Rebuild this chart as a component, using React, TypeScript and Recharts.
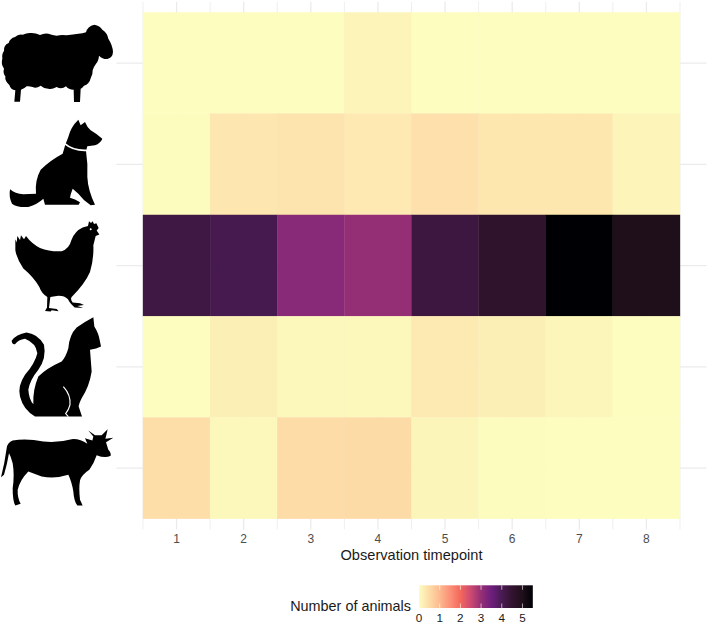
import React from 'react';
import { ScatterChart, Scatter, XAxis, YAxis, CartesianGrid, Legend, Label } from 'recharts';

const TIMEPOINTS = [1, 2, 3, 4, 5, 6, 7, 8];
const HALF_POINTS = [0.5, 1.5, 2.5, 3.5, 4.5, 5.5, 6.5, 7.5, 8.5];
const ROWS = [1, 2, 3, 4, 5];
const LEGEND_TICKS = [0, 1, 2, 3, 4, 5];

// animal rows, top to bottom
const SHEEP = [0, 0, 0, 0.13, 0, 0, 0, 0];
const DOG = [0.02, 0.34, 0.38, 0.29, 0.42, 0.33, 0.33, 0.13];
const CHICKEN = [4.2, 4.05, 3.15, 3, 4.25, 4.6, 5.5, 5];
const CAT = [0, 0.2, 0.09, 0.09, 0.28, 0.2, 0.1, 0];
const COW = [0.46, 0.08, 0.48, 0.5, 0.12, 0.02, 0, 0];

const COLOR_VALUES = [0, 0.5, 1, 1.5, 2, 2.5, 3, 3.5, 4, 4.5, 5, 5.5];
const COLOR_STOPS = ['#FCFDBF', '#FDDBA7', '#FDB98F', '#FB9078', '#F4685C', '#CC4A72', '#952F75', '#6E1E7E', '#491B52', '#33132F', '#1E0F1B', '#000004'];

const CHART_W = 709;
const CHART_H = 625;
const PLOT_LEFT = 116.5;
const PLOT_RIGHT = 706.5;
const PLOT_TOP = 1.8;
const PLOT_BOTTOM = 529.4;
const X_DOMAIN = [0.105, 8.895];
const Y_DOMAIN = [0.395, 5.605];
const CELL_W = (PLOT_RIGHT - PLOT_LEFT) / (X_DOMAIN[1] - X_DOMAIN[0]);
const CELL_H = (PLOT_BOTTOM - PLOT_TOP) / (Y_DOMAIN[1] - Y_DOMAIN[0]);

function hexToRgb(hex: string) {
  return [1, 3, 5].map((i) => parseInt(hex.slice(i, i + 2), 16));
}

function colorFor(v: number) {
  let i = 0;
  while (i < COLOR_VALUES.length - 2 && v > COLOR_VALUES[i + 1]) i++;
  const t = (v - COLOR_VALUES[i]) / (COLOR_VALUES[i + 1] - COLOR_VALUES[i]);
  const a = hexToRgb(COLOR_STOPS[i]);
  const b = hexToRgb(COLOR_STOPS[i + 1]);
  const c = a.map((x, k) => Math.round(x + (b[k] - x) * t));
  return `rgb(${c[0]},${c[1]},${c[2]})`;
}

const rowData = (counts: number[], row: number) => counts.map((count, i) => ({ x: TIMEPOINTS[i], y: row, count }));

// traced silhouettes, drawn in a 3x box and scaled down in the tick
const ICONS: Record<number, { dy: number; body: string; white?: React.ReactNode }> = {
  5: {
    dy: -52.7,
    body: 'M258 66 Q262 48 283 43 Q300 46 307 58 Q322 68 325 85 Q338 105 339 125 Q338 142 322 146 Q308 147 297 136 Q296 152 288 160 Q282 168 278 180 Q279 192 272 204 Q268 222 252 226 Q246 234 242 235 L240 275 L222 275 L221 238 Q205 238 198 228 Q185 238 170 230 Q155 238 145 235 Q130 234 122 226 Q108 236 98 230 Q85 226 80 228 Q72 236 63 238 L60 274 L43 274 L46 240 Q32 238 28 224 Q14 212 16 198 Q8 188 12 175 Q2 160 7 145 Q5 130 12 122 Q10 105 26 98 Q30 84 45 80 Q55 70 68 73 Q82 66 95 68 Q108 68 120 74 Q132 68 145 70 Q158 74 170 76 Q185 72 200 75 Q220 72 235 70 Q248 70 258 66 Z',
  },
  4: {
    dy: -54,
    body: 'M235 28 L242 45 L255 35 Q262 52 272 60 Q292 72 307 85 Q302 98 285 105 L262 108 L258 122 Q264 160 262 200 Q264 240 285 283 L272 285 Q250 270 235 250 L218 235 Q212 250 210 262 Q225 265 240 276 L236 283 Q190 284 135 283 L130 265 Q112 282 85 290 Q50 292 36 280 Q26 262 30 237 Q45 250 70 252 L108 250 Q104 210 122 178 Q150 150 188 130 Q196 100 205 80 Q212 50 235 28 Z',
    white: <path d="M194 100 Q220 122 260 120" fill="none" stroke="#fff" strokeWidth={5} />,
  },
  3: {
    dy: -53.7,
    body: 'M46 82 L50 92 L52 72 L60 84 L63 70 L72 82 L78 72 Q95 95 120 108 Q150 120 185 118 Q208 110 214 85 Q224 58 248 47 L264 42 L267 28 L273 33 L278 28 L282 36 L289 34 L296 48 L290 56 L298 68 L287 72 Q284 85 280 100 Q282 140 270 180 Q255 215 215 255 Q210 262 218 272 L240 274 L252 279 L232 282 L250 288 L224 287 Q208 272 204 262 Q192 250 170 252 L151 255 L147 288 L170 291 L176 298 L155 295 L152 299 L135 297 L141 287 L142 255 Q125 245 118 225 Q100 195 70 170 Q50 140 46 115 Z',
    white: <circle cx={272} cy={52} r={3} fill="#fff" />,
  },
  2: {
    dy: -52,
    body: 'M280 7 L283 35 Q296 55 300 80 L303 95 Q290 102 270 105 Q272 130 275 170 Q268 215 245 250 Q236 268 236 275 L246 305 L190 305 L105 305 Q70 285 60 245 Q52 215 75 180 Q105 145 112 115 Q108 85 75 72 Q55 75 45 88 Q36 90 35 78 Q48 58 80 53 Q115 58 132 90 Q140 130 115 165 Q90 195 85 225 Q87 255 100 268 Q98 225 115 185 Q140 160 185 140 Q198 125 205 100 Q208 60 230 38 Q255 20 280 7 Z',
    white: <path d="M190 215 Q213 240 210 270 Q206 285 197 296 L205 305" fill="none" stroke="#fff" strokeWidth={3.5} />,
  },
  1: {
    dy: -48.3,
    body: 'M20 85 Q22 68 38 62 Q80 55 130 65 Q170 70 215 58 Q240 56 262 72 L255 55 L277 62 L280 50 L265 32 L285 46 L305 46 L323 28 L318 50 L316 57 L340 54 L318 67 L325 90 Q334 100 332 108 Q315 116 290 106 Q282 130 268 150 Q245 165 240 182 Q236 205 240 240 L248 257 L232 257 Q222 245 220 215 Q215 185 205 165 Q165 178 125 170 L85 155 Q60 180 53 210 Q52 235 62 252 L46 257 Q38 245 38 205 Q44 165 38 130 Q33 110 27 100 Q22 130 12 165 L3 172 Q14 130 20 85 Z',
  },
};

function AnimalTick(props: any) {
  const icon = ICONS[props.payload.value];
  if (!icon) return null;
  return (
    <g transform={`translate(0,${props.y + icon.dy}) scale(${1 / 3})`}>
      <path d={icon.body} fill="#000" />
      {icon.white}
    </g>
  );
}

function Tile(props: any) {
  const { cx, cy, payload } = props;
  const fill = colorFor(payload.count);
  // thin same-colour stroke closes the hairline seams between tiles
  return <rect x={cx - CELL_W / 2} y={cy - CELL_H / 2} width={CELL_W} height={CELL_H} fill={fill} stroke={fill} strokeWidth={0.35} />;
}

function ColorBar() {
  const x0 = 139;
  const barW = 113.8;
  const unit = barW / 5.5;
  return (
    <svg width={270} height={45} style={{ display: 'block', overflow: 'visible', fontFamily: '"Liberation Sans", Arial, sans-serif' }}>
      <defs>
        <linearGradient id="animalsRamp" x1="0" x2="1" y1="0" y2="0">
          {COLOR_VALUES.map((v, i) => (
            <stop key={v} offset={v / 5.5} stopColor={COLOR_STOPS[i]} />
          ))}
        </linearGradient>
      </defs>
      <text x={131} y={31} textAnchor="end" fontSize={14.4} fill="#1a1a1a">Number of animals</text>
      <rect x={x0} y={5.3} width={barW} height={22.7} fill="url(#animalsRamp)" />
      {LEGEND_TICKS.map((t) => (
        <g key={t} stroke="#fff" strokeWidth={0.6}>
          <line x1={x0 + t * unit} x2={x0 + t * unit} y1={5.3} y2={9.8} />
          <line x1={x0 + t * unit} x2={x0 + t * unit} y1={23.5} y2={28} />
        </g>
      ))}
      {LEGEND_TICKS.map((t) => (
        <text key={t} x={x0 + t * unit} y={42.2} textAnchor="middle" fontSize={11.7} fill="#1a1a1a">{t}</text>
      ))}
    </svg>
  );
}

export default function App() {
  return (
    <div style={{ position: 'absolute', left: 0, top: 0, width: CHART_W, height: CHART_H, fontFamily: '"Liberation Sans", Arial, sans-serif' }}>
      <ScatterChart
        width={CHART_W}
        height={CHART_H}
        margin={{ top: PLOT_TOP, right: CHART_W - PLOT_RIGHT, left: 0, bottom: CHART_H - PLOT_BOTTOM - 40 }}
      >
        <CartesianGrid stroke="#ebebeb" strokeWidth={1.3} horizontalValues={ROWS} verticalValues={TIMEPOINTS} />
        <CartesianGrid stroke="#ebebeb" strokeWidth={0.8} horizontal={false} verticalValues={HALF_POINTS} />
        <XAxis
          type="number"
          dataKey="x"
          domain={X_DOMAIN}
          ticks={TIMEPOINTS}
          allowDataOverflow
          interval={0}
          axisLine={false}
          tickLine={false}
          height={40}
          tickMargin={1}
          tick={{ fill: '#4d4d4d', fontSize: 12, dy: -2 }}
        >
          <Label value="Observation timepoint" position="insideBottom" offset={9} fill="#1a1a1a" fontSize={14.6} />
        </XAxis>
        <YAxis
          type="number"
          dataKey="y"
          domain={Y_DOMAIN}
          ticks={ROWS}
          allowDataOverflow
          interval={0}
          axisLine={false}
          tickLine={false}
          width={PLOT_LEFT}
          tick={<AnimalTick />}
        />
        <Legend
          verticalAlign="middle"
          layout="horizontal"
          wrapperStyle={{ position: 'absolute', left: 280, top: 580, width: 270, height: 45, margin: 0 }}
          content={() => <ColorBar />}
        />
        <Scatter name="Sheep" data={rowData(SHEEP, 5)} shape={<Tile />} isAnimationActive={false} />
        <Scatter name="Dog" data={rowData(DOG, 4)} shape={<Tile />} isAnimationActive={false} />
        <Scatter name="Chicken" data={rowData(CHICKEN, 3)} shape={<Tile />} isAnimationActive={false} />
        <Scatter name="Cat" data={rowData(CAT, 2)} shape={<Tile />} isAnimationActive={false} />
        <Scatter name="Cow" data={rowData(COW, 1)} shape={<Tile />} isAnimationActive={false} />
      </ScatterChart>
    </div>
  );
}
